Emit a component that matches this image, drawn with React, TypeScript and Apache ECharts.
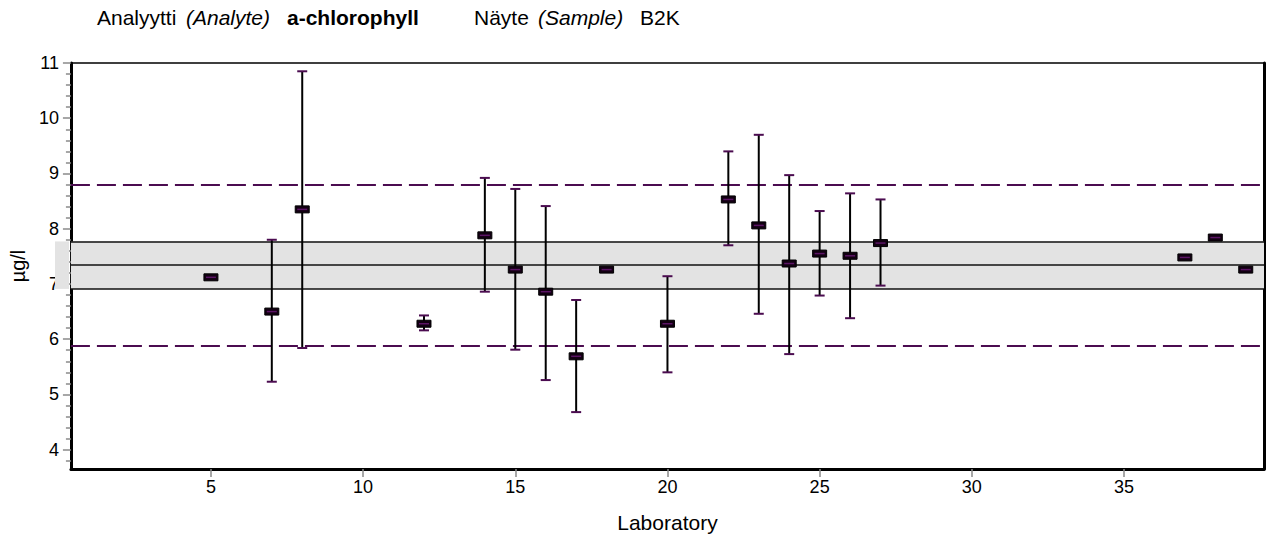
import React, { useEffect, useRef } from "react";
import * as echarts from "echarts";

const labs = [5, 7, 8, 12, 14, 15, 16, 17, 18, 20, 22, 23, 24, 25, 26, 27, 37, 38, 39];
const means = [7.12, 6.5, 8.35, 6.28, 7.88, 7.26, 6.86, 5.69, 7.26, 6.28, 8.53, 8.06, 7.37, 7.55, 7.51, 7.74, 7.48, 7.84, 7.26];
const lows: (number | null)[] = [null, 5.23, 5.84, 6.16, 6.86, 5.81, 5.26, 4.68, null, 5.4, 7.7, 6.46, 5.73, 6.79, 6.38, 6.97, null, null, null];
const highs: (number | null)[] = [null, 7.8, 10.85, 6.43, 8.92, 8.72, 8.41, 6.71, null, 7.14, 9.4, 9.7, 8.97, 8.32, 8.64, 8.53, null, null, null];

const assignedValue = 7.34;
const bandLow = 6.91;
const bandHigh = 7.77;
const limitLow = 5.89;
const limitHigh = 8.8;

const xTicks = [5, 10, 15, 20, 25, 30, 35];
const yMajorTicks = [4, 5, 6, 7, 8, 9, 10, 11];
const yMinorTicks = [3.8, 4.2, 4.4, 4.6, 4.8, 5.2, 5.4, 5.6, 5.8, 6.2, 6.4, 6.6, 6.8, 7.2, 7.4, 7.6, 7.8, 8.2, 8.4, 8.6, 8.8, 9.2, 9.4, 9.6, 9.8, 10.2, 10.4, 10.6, 10.8];

const FONT = "'Liberation Sans', Arial, sans-serif";
const PURPLE = "#4b0c50";

export default function App() {
  const ref = useRef<HTMLDivElement>(null);

  useEffect(() => {
    if (!ref.current) return;
    const chart = echarts.init(ref.current, undefined, { renderer: "svg" });

    const titleParts = [
      { text: "Analyytti", x: 97, font: "normal", weight: "normal" },
      { text: "(Analyte)", x: 186, font: "italic", weight: "normal" },
      { text: "a-chlorophyll", x: 287, font: "normal", weight: "bold" },
      { text: "Näyte", x: 474, font: "normal", weight: "normal" },
      { text: "(Sample)", x: 538, font: "italic", weight: "normal" },
      { text: "B2K", x: 640, font: "normal", weight: "normal" },
    ];

    const option: any = {
      animation: false,
      backgroundColor: "#fff",
      grid: {
        left: 70,
        right: 4,
        top: 63,
        bottom: 69,
        show: true,
        borderColor: "#000",
        borderWidth: 1.5,
        backgroundColor: "transparent",
      },
      xAxis: {
        type: "value",
        min: 0.4,
        max: 39.6,
        axisLine: { show: true, onZero: false, lineStyle: { color: "#000", width: 3 } },
        axisTick: { show: true, customValues: xTicks, length: 8, lineStyle: { color: "#8a8a8a", width: 1.5 } },
        axisLabel: { customValues: xTicks, fontSize: 18, color: "#000", margin: 9, fontFamily: FONT },
        splitLine: { show: false },
        name: "Laboratory",
        nameLocation: "middle",
        nameGap: 43,
        nameTextStyle: { fontSize: 21, color: "#000", fontFamily: FONT },
      },
      yAxis: [
        {
          type: "value",
          min: 3.65,
          max: 11,
          position: "left",
          axisLine: { show: true, onZero: false, lineStyle: { color: "#000", width: 3 } },
          axisTick: { show: true, customValues: yMajorTicks, length: 8, lineStyle: { color: "#8a8a8a", width: 1.5 } },
          axisLabel: { customValues: yMajorTicks, fontSize: 18, color: "#000", margin: 12, fontFamily: FONT },
          splitLine: { show: false },
          name: "µg/l",
          nameLocation: "middle",
          nameGap: 42,
          nameTextStyle: { fontSize: 20, color: "#000", fontFamily: FONT },
        },
        {
          type: "value",
          min: 3.65,
          max: 11,
          position: "left",
          axisLine: { show: false },
          axisTick: { show: true, customValues: yMinorTicks, length: 5, lineStyle: { color: "#8a8a8a", width: 1.5 } },
          axisLabel: { show: false },
          splitLine: { show: false },
        },
        {
          type: "value",
          min: 3.65,
          max: 11,
          position: "right",
          axisLine: { show: true, onZero: false, lineStyle: { color: "#000", width: 3 } },
          axisTick: { show: false },
          axisLabel: { show: false },
          splitLine: { show: false },
        },
      ],
      series: [
        {
          type: "line",
          data: [],
          z: 1,
          silent: true,
          markArea: {
            silent: true,
            itemStyle: { color: "#e3e3e3" },
            data: [[{ yAxis: bandLow }, { yAxis: bandHigh }]],
          },
          markLine: {
            silent: true,
            symbol: "none",
            label: { show: false },
            data: [
              { yAxis: limitHigh, lineStyle: { type: [19, 7], color: PURPLE, width: 2 } },
              { yAxis: limitLow, lineStyle: { type: [19, 7], color: PURPLE, width: 2 } },
              { yAxis: bandHigh, lineStyle: { type: "solid", color: "#111", width: 1.5 } },
              { yAxis: assignedValue, lineStyle: { type: "solid", color: "#111", width: 1.5 } },
              { yAxis: bandLow, lineStyle: { type: "solid", color: "#111", width: 1.5 } },
            ],
          },
        },
        {
          type: "custom",
          z: 5,
          data: labs.map((l, i) => [l, means[i]]),
          renderItem: (params: any, api: any) => {
            const i = params.dataIndex;
            const c = api.coord([api.value(0), api.value(1)]);
            const children: any[] = [];
            const lo = lows[i];
            const hi = highs[i];
            if (lo != null && hi != null) {
              const pl = api.coord([api.value(0), lo]);
              const ph = api.coord([api.value(0), hi]);
              children.push({
                type: "line",
                shape: { x1: c[0], y1: ph[1], x2: c[0], y2: pl[1] },
                style: { stroke: "#000", lineWidth: 2 },
              });
              [ph[1], pl[1]].forEach((yy) => {
                children.push({
                  type: "line",
                  shape: { x1: c[0] - 5, y1: yy, x2: c[0] + 5, y2: yy },
                  style: { stroke: PURPLE, lineWidth: 2 },
                });
              });
            }
            children.push({
              type: "rect",
              shape: { x: c[0] - 7, y: c[1] - 3.5, width: 14, height: 7 },
              style: { fill: "#120012", stroke: "#000", lineWidth: 1 },
            });
            children.push({
              type: "line",
              shape: { x1: c[0] - 5, y1: c[1], x2: c[0] + 5, y2: c[1] },
              style: { stroke: "#5c1466", lineWidth: 1.5 },
            });
            return { type: "group", children };
          },
        },
      ],
      graphic: titleParts.map((p) => ({
        type: "text",
        left: p.x,
        top: 7,
        style: {
          text: p.text,
          fontSize: 21,
          fontFamily: FONT,
          fontStyle: p.font,
          fontWeight: p.weight,
          fill: "#000",
        },
      })),
    };

    chart.setOption(option);

    const yTop = chart.convertToPixel({ yAxisIndex: 0 }, bandHigh) as number;
    const yBot = chart.convertToPixel({ yAxisIndex: 0 }, bandLow) as number;
    chart.setOption({
      graphic: [
        ...option.graphic,
        {
          type: "rect",
          z: 100,
          shape: { x: 55, y: yTop, width: 14, height: yBot - yTop },
          style: { fill: "#e3e3e3" },
        },
      ],
    });

    return () => chart.dispose();
  }, []);

  return (
    <div
      ref={ref}
      style={{ position: "absolute", left: 0, top: 0, width: 1268, height: 538 }}
    />
  );
}
